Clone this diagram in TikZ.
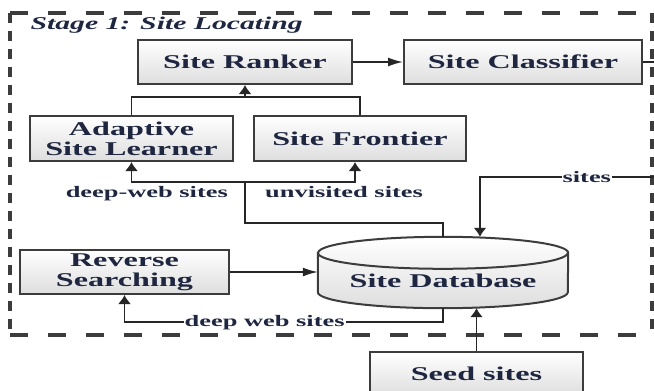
\documentclass[tikz,border=0pt]{standalone}
\usepackage{fontspec}
\setmainfont{Liberation Serif}[FakeStretch=1.65]
\usetikzlibrary{arrows.meta}
\usetikzlibrary{positioning}
\usepackage{xcolor}
\definecolor{inkblue}{HTML}{1E2640}
\definecolor{edgegray}{HTML}{3C3C3C}
\pgfdeclarelayer{background}
\pgfsetlayers{background,main}

\begin{document}
\begin{tikzpicture}[
    x=1pt, y=-1pt,
    node distance=19pt and 50pt,
    box/.style={rectangle,draw=edgegray,line width=2pt,top color=white,bottom color=black!13,
      text=inkblue,font=\bfseries\fontsize{19.5}{20}\selectfont,align=center,inner sep=0pt},
    lbl/.style={text=inkblue,font=\bfseries\fontsize{16}{17}\selectfont,inner sep=1pt},
    wire/.style={line width=1.6pt,draw=black!85},
    harr/.style={wire,-{Latex[length=15pt,width=9pt]}},
    varr/.style={wire,-{Latex[length=9pt,width=13pt]}},
    frameh/.style={line width=3.5pt,draw=edgegray,dash pattern=on 18pt off 20pt},
    framev/.style={line width=4.5pt,draw=edgegray,dash pattern=on 10pt off 8pt}
    ]
    \useasboundingbox (0,0) rectangle (654,391);

    % stage frame
    \coordinate (fnw) at (10,13);
    \coordinate (fse) at (652,335);
    \draw[frameh] (fnw) -- (fse |- fnw);
    \draw[frameh] (fnw |- fse) -- (fse);
    \draw[framev] (fnw) -- (fnw |- fse);
    \draw[framev] (fse |- fnw) -- (fse);
    \node[anchor=west,text=inkblue,font=\bfseries\itshape\fontsize{18}{19}\selectfont] (stage) at (27,25) {Stage 1: Site Locating};

    \node[box,minimum width=214pt,minimum height=44pt] (ranker) at (245,62) {Site Ranker};
    \node[box,minimum width=238pt,minimum height=44pt,right=50pt of ranker] (classifier) {Site Classifier};
    \node[box,minimum width=203pt,minimum height=45pt] (learner) at (131.5,138.5) {Adaptive\\Site Learner};
    \node[box,minimum width=212pt,minimum height=45pt,right=19pt of learner] (frontier) {Site Frontier};
    \node[box,minimum width=209pt,minimum height=44pt] (reverse) at (124.5,272) {Reverse\\Searching};
    \node[text=inkblue,font=\bfseries\fontsize{19.5}{20}\selectfont,inner sep=0pt,
      minimum width=250pt,minimum height=55pt] (db) at (443,280.5) {Site Database};
    \node[box,minimum width=213pt,minimum height=44pt] (seed) at (476.5,374) {Seed sites};

    % database drum
    \begin{pgfonlayer}{background}
      \path[draw=edgegray,line width=2pt,top color=white,bottom color=black!13]
        (db.north west) -- ([yshift=16pt]db.south west)
        arc[start angle=180,end angle=360,x radius=125pt,y radius=16pt]
        -- (db.north east)
        arc[start angle=0,end angle=180,x radius=125pt,y radius=16pt] -- cycle;
      \draw[draw=edgegray,line width=2pt] (db.north west)
        arc[start angle=180,end angle=360,x radius=125pt,y radius=16pt];
    \end{pgfonlayer}
    \coordinate (dbtop) at ([yshift=16pt]db.north);

    \coordinate (join) at (245,97);
    \coordinate (fork) at (245,182);
    \coordinate (bend) at (245,223);
    \coordinate (edge) at (658,177);
    \coordinate (siteln) at (480,177);

    \draw[harr] (ranker) -- (classifier);
    \draw[wire] (learner.north) |- (frontier.north |- join) -- (frontier.north);
    \draw[varr] (join) -- (ranker.south);

    \draw[wire] (dbtop) |- (bend) -- (fork);
    \draw[varr] (fork) -| (learner.south);
    \draw[varr] (fork) -| ([xshift=-5pt]frontier.south);
    \node[lbl,below left=3pt and 16pt of fork] (dwlbl) {deep-web sites};
    \node[lbl,below right=3pt and 19pt of fork] (uvlbl) {unvisited sites};

    \draw[varr] (classifier.east) -| (edge) -- node[lbl,fill=white,pos=0.4] (stlbl) {sites} (siteln) -- (siteln |- dbtop);

    \draw[harr] (reverse.east) -- (reverse.east -| db.west);
    \draw[varr] (db.south) -- ++(0,14) -| node[lbl,fill=white,pos=0.28] (dwslbl) {deep web sites} (reverse.south);
    \draw[varr] (seed.north) -- (seed.north |- db.south);

\end{tikzpicture}
\end{document}
